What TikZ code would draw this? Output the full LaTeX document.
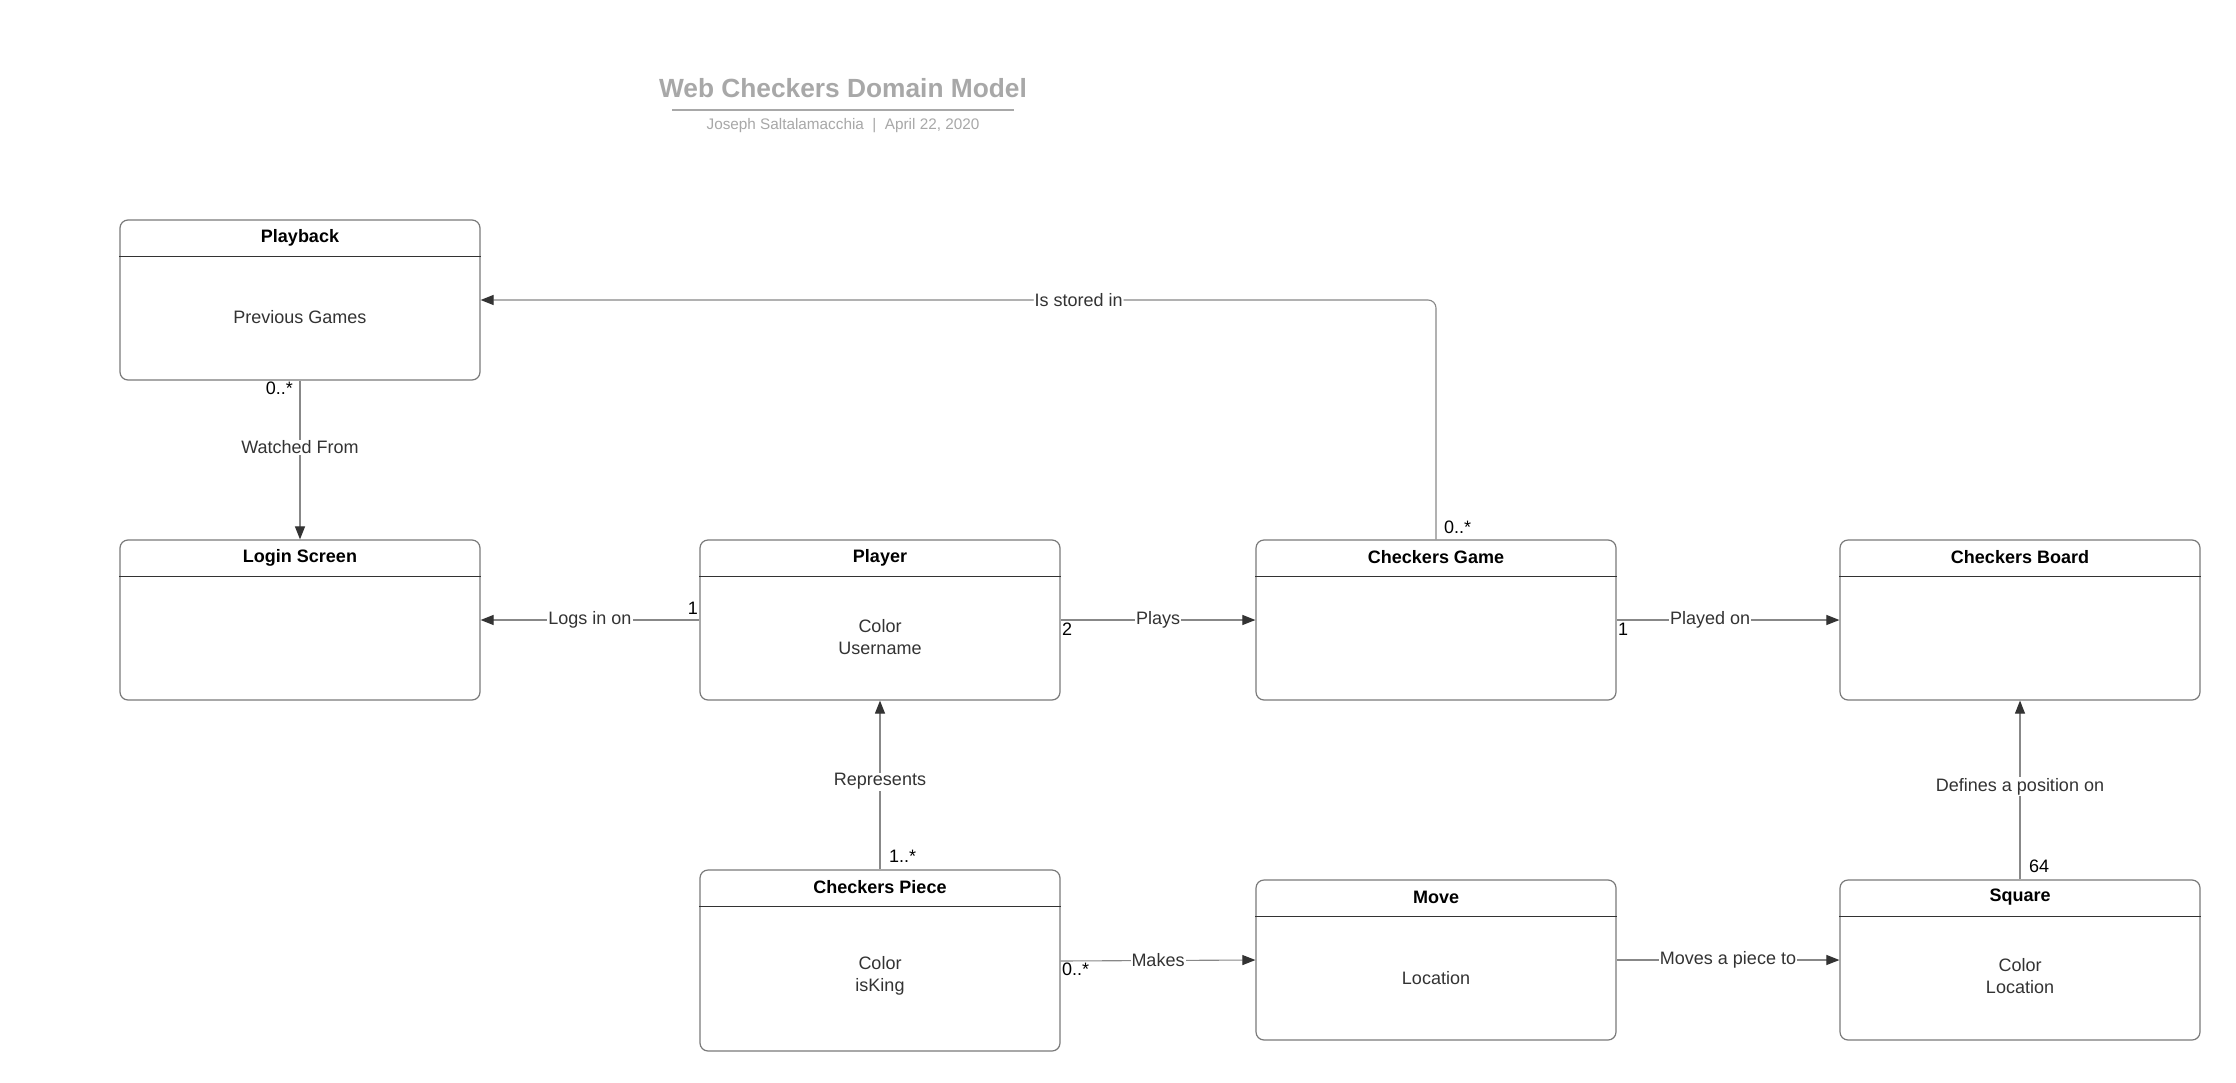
\documentclass[tikz,border=0pt]{standalone}
\usepackage{fontspec}
\setmainfont{Liberation Sans}
\usetikzlibrary{arrows.meta,positioning}
\definecolor{linegray}{HTML}{888888}
\definecolor{boxgray}{HTML}{7A7A7A}
\definecolor{txtgray}{HTML}{333333}
\definecolor{ttlgray}{HTML}{A8A8A8}
\tikzset{
  umlbox/.style={draw=boxgray, line width=1.2pt, rounded corners=8pt, minimum width=360pt, inner sep=0pt},
  divider/.style={draw=txtgray, line width=1pt},
  boxtitle/.style={font=\fontsize{18}{21}\selectfont\bfseries, text=black},
  attr/.style={font=\fontsize{18}{22}\selectfont, text=txtgray, align=center},
  assoc/.style={draw=linegray, line width=1.1pt, -{Triangle[length=13pt,width=10pt,color=txtgray]}},
  elabel/.style={font=\fontsize{18}{21}\selectfont, text=txtgray, fill=white, inner sep=1pt},
  mult/.style={font=\fontsize{18}{21}\selectfont, text=black, inner sep=1pt}
}
\begin{document}
\begin{tikzpicture}[x=1pt,y=-1pt]
\useasboundingbox[fill=white] (0,0) rectangle (2236,1082);

% title
\node[font=\fontsize{26.3}{31}\selectfont\bfseries, text=ttlgray] (ttl) at (843,88) {Web Checkers Domain Model};
\draw[ttlgray, line width=1.3pt] (672,110) -- (1014,110);
\node[font=\fontsize{15.3}{18}\selectfont, text=ttlgray] (sub) at (843,126) {Joseph Saltalamacchia~~|~~April 22, 2020};

% boxes
\node[umlbox, minimum height=160pt] (playback) at (300,300) {};
\node[umlbox, minimum height=160pt] (login) at (300,620) {};
\node[umlbox, minimum height=160pt] (player) at (880,620) {};
\node[umlbox, minimum height=160pt] (game) at (1436,620) {};
\node[umlbox, minimum height=160pt] (board) at (2020,620) {};
\node[umlbox, minimum height=181pt] (piece) at (880,960.5) {};
\node[umlbox, minimum height=160pt] (move) at (1436,960) {};
\node[umlbox, minimum height=160pt] (square) at (2020,960) {};

% headers
\foreach \b/\t in {playback/Playback, login/Login Screen, player/Player, game/Checkers Game, board/Checkers Board, piece/Checkers Piece, move/Move, square/Square}{
  \draw[divider] ([yshift=-37pt]\b.north west) -- ([yshift=-37pt]\b.north east);
  \node[boxtitle] (\b-t) at ([yshift=-18pt]\b.north) {\t};
}

% attributes
\node[attr] (playback-a) at (300,317) {Previous Games};
\node[attr] (player-a) at (880,637) {Color\\Username};
\node[attr] (piece-a) at (880,976) {Color\\isKing};
\node[attr] (move-a) at (1436,978) {Location};
\node[attr] (square-a) at (2020,976) {Color\\Location};

% connectors
\draw[assoc, rounded corners=8pt] (game.north) |- node[elabel, pos=0.687] (l1) {Is stored in} (playback.east);
\node[mult, anchor=south west] (m1) at (1443,535) {0..*};

\draw[assoc] (playback.south) -- node[elabel, pos=0.42] (l2) {Watched From} (login.north);
\node[mult, anchor=north east] (m2) at (294,381) {0..*};

\draw[assoc] (player.west) -- node[elabel, pos=0.5] (l3) {Logs in on} (login.east);
\node[mult, anchor=south east] (m3) at (699,616) {1};

\draw[assoc] (player.east) -- node[elabel, pos=0.5] (l4) {Plays} (game.west);
\node[mult, anchor=north west] (m4) at (1061,622) {2};

\draw[assoc] (game.east) -- node[elabel, pos=0.42] (l5) {Played on} (board.west);
\node[mult, anchor=north west] (m5) at (1617,622) {1};

\draw[assoc] (piece.north) -- node[elabel, pos=0.52] (l6) {Represents} (player.south);
\node[mult, anchor=south west] (m6) at (888,864) {1..*};

\draw[assoc] ([yshift=-0.5pt]piece.east) -- node[elabel, pos=0.5] (l7) {Makes} (move.west);
\node[mult, anchor=north west] (m7) at (1061,962) {0..*};

\draw[assoc] (move.east) -- node[elabel, pos=0.5] (l8) {Moves a piece to} (square.west);

\draw[assoc] (square.north) -- node[elabel, pos=0.52] (l9) {Defines a position on} (board.south);
\node[mult, anchor=south west] (m9) at (2028,874) {64};
\end{tikzpicture}
\end{document}
